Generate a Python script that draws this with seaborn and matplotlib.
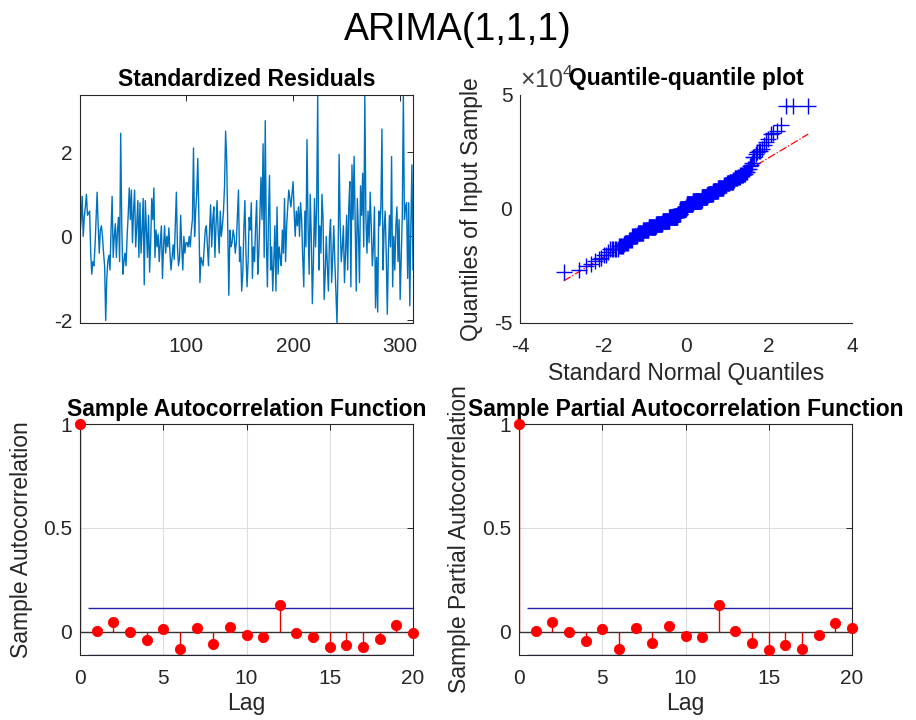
import numpy as np
import pandas as pd
import matplotlib
matplotlib.use("Agg")
import matplotlib.pyplot as plt
import seaborn as sns
from matplotlib.ticker import FuncFormatter
from statistics import NormalDist

# Standardized residuals of the fitted ARIMA(1,1,1) model
std_residuals = [
    0.05, 0.4, 0.95, 0.0, 0.45, 0.7, 1.0, 0.5, 0.55, 0.6,
    -0.4, -0.9, -0.6, -0.7, -0.25, 0.4, 1.05, 0.25, -0.4, 0.15,
    0.25, 0.0, -0.4, -0.7, -2.0, -1.0, -0.6, -0.45, -0.8, 0.15,
    0.95, -0.5, 0.0, 0.3, -0.5, 0.15, 0.45, -0.6, 2.45, 0.25,
    -0.9, -0.6, -0.4, -0.7, 0.0, 0.5, 1.15, 0.4, 1.1, -0.15,
    0.6, 1.1, -0.25, 0.25, 0.85, -0.5, 0.8, -0.4, 0.15, 0.9,
    -1.15, 0.85, 0.15, -0.5, 0.5, -0.85, -0.15, 0.9, 0.4, 1.15,
    -0.5, 0.15, -0.25, 0.05, -0.6, -0.15, 0.25, -1.0, -0.25, 0.25,
    -0.4, 0.0, -0.25, 0.2, -0.4, -0.8, -0.5, -0.2, -0.55, 0.25,
    1.05, -0.25, -0.7, -0.5, 0.5, -0.25, -0.8, 0.0, -0.4, -0.15,
    -0.15, -0.25, 0.0, -0.25, 0.15, 0.4, 2.1, 0.0, 0.6, 1.0,
    1.85, 0.5, -1.1, -0.5, -0.6, -0.7, -0.25, 0.15, 0.25, -0.25,
    -0.7, 0.15, 0.75, -0.25, 0.4, 0.7, -0.5, 0.25, 0.85, 0.15,
    -0.4, 0.6, 0.0, 0.25, 0.6, 1.2, 2.5, 1.8, 0.25, -1.4,
    0.15, -0.25, -0.15, 0.15, 0.0, -0.4, -0.15, 0.5, 1.1, -0.6,
    -0.25, -1.3, -0.9, 0.15, 0.85, -0.4, -1.2, -0.6, 0.45, 0.15,
    0.8, -1.0, -0.25, -0.6, 0.25, 0.85, -0.9, -0.4, 0.5, 1.4,
    0.4, 2.2, -0.5, 2.75, 0.0, -1.2, 0.4, 1.45, -0.8, -0.25,
    -1.3, -0.6, 0.25, -1.3, 0.7, -0.9, -0.25, -0.5, -0.7, 0.15,
    -0.4, 0.9, -0.6, 0.25, 0.7, 1.1, 0.9, 0.7, 1.0, 1.3,
    0.6, 0.0, 0.6, 0.25, 0.7, 0.0, 0.8, 0.4, -0.5, -1.2,
    0.6, -0.25, 2.3, 0.25, -0.9, 1.0, 0.0, -1.6, -0.6, 0.9,
    -0.25, 0.7, 3.36, -0.8, 0.25, -0.4, 1.0, 0.4, -1.5, -0.9,
    0.0, -0.7, -1.3, 0.0, 0.4, -1.1, -0.5, 0.25, -0.6, -1.3,
    -2.06, -0.7, 1.95, 0.25, -0.6, -0.25, 0.25, -1.1, -0.4, 0.5,
    -0.8, 0.7, 1.3, -1.2, 1.7, 0.4, 1.9, 0.25, -1.3, 0.9,
    0.15, -1.1, 1.2, 0.5, 1.5, -0.25, 3.36, 0.5, -0.4, 0.6,
    -0.15, 1.05, 0.25, -0.7, -0.25, 0.7, -1.7, -0.5, -1.8, 0.6,
    0.25, 0.7, 2.55, -0.8, 0.15, 0.6, -0.4, -1.85, -0.4, 0.5,
    -0.25, 1.9, -1.2, 0.0, -0.8, 0.25, 0.7, -0.6, 0.4, -1.5,
    -0.5, 0.5, 3.36, 0.4, 0.7, 0.8, -1.0, 0.8, -1.65, 0.25,
    1.7, -0.8,
]
# Residual standard deviation (raw residuals = standardized * scale)
residual_scale = 1.34e4

lags = list(range(0, 21))
acf_values = [1.0, 0.005, 0.047, 0.0, -0.042, 0.013, -0.085, 0.018, -0.058, 0.023,
              -0.016, -0.027, 0.129, -0.005, -0.024, -0.076, -0.066, -0.073, -0.037,
              0.031, -0.005]
pacf_values = [1.0, 0.005, 0.047, -0.002, -0.045, 0.013, -0.085, 0.018, -0.053, 0.026,
               -0.023, -0.024, 0.129, 0.005, -0.055, -0.087, -0.066, -0.082, -0.016,
               0.040, 0.019]
conf_bound = 0.113

sns.set_theme(style="white")
plt.rcParams["font.family"] = ["Liberation Sans", "DejaVu Sans"]
plt.rcParams.update({
    "axes.unicode_minus": False,
    "mathtext.default": "regular",
    "axes.edgecolor": "#262626",
    "axes.linewidth": 0.8,
    "xtick.color": "#262626",
    "ytick.color": "#262626",
    "xtick.labelcolor": "#262626",
    "ytick.labelcolor": "#262626",
    "xtick.direction": "in",
    "ytick.direction": "in",
    "xtick.major.size": 4,
    "ytick.major.size": 4,
    "xtick.major.width": 0.7,
    "ytick.major.width": 0.7,
    "xtick.major.pad": 10,
    "ytick.major.pad": 5.5,
    "xtick.labelsize": 15,
    "ytick.labelsize": 15,
    "axes.labelsize": 16.5,
    "axes.labelcolor": "#262626",
})

W, H = 916, 720
fig = plt.figure(figsize=(W / 100, H / 100), dpi=100)


def add_axes(left, top, right, bottom):
    return fig.add_axes([left / W, 1 - bottom / H, (right - left) / W, (bottom - top) / H])


ax_res = add_axes(80, 95, 413, 323)
ax_qq = add_axes(520, 95, 852, 323)
ax_acf = add_axes(80, 424, 413, 655)
ax_pacf = add_axes(519, 424, 852, 655)

title_kw = dict(fontsize=16.5, fontweight="bold", color="black", pad=0, va="center")

# Standardized residuals
n = len(std_residuals)
res_df = pd.DataFrame({"t": np.arange(1, n + 1), "r": std_residuals})
sns.lineplot(data=res_df, x="t", y="r", ax=ax_res, color="#0072BD", linewidth=1.0)
ax_res.set_xlim(1, n)
ax_res.set_ylim(min(std_residuals), max(std_residuals))
ax_res.set_xticks([100, 200, 300])
ax_res.set_yticks([-2, 0, 2])
ax_res.set_xlabel("")
ax_res.set_ylabel("")
ax_res.tick_params(top=True, right=True)
ax_res.set_title("Standardized Residuals", y=1.068, **title_kw)

# Quantile-quantile plot of the raw residuals
sample = np.sort(np.array(std_residuals) * residual_scale)
probs = (np.arange(1, n + 1) - 0.5) / n
theo = np.array([NormalDist().inv_cdf(p) for p in probs])
q1, q3 = np.percentile(sample, [25, 75])
t1, t3 = NormalDist().inv_cdf(0.25), NormalDist().inv_cdf(0.75)
slope = (q3 - q1) / (t3 - t1)
intercept = q1 - slope * t1
line_x = np.array([theo[0], theo[-1]])
sns.lineplot(x=line_x, y=intercept + slope * line_x, ax=ax_qq, color="red",
             linestyle="-.", linewidth=0.9)
sns.scatterplot(x=theo, y=sample, ax=ax_qq, marker="+", s=130, color="#0000FF",
                linewidth=1.0, zorder=3)
ax_qq.set_xlim(-4, 4)
ax_qq.set_ylim(-5e4, 5e4)
ax_qq.set_xticks([-4, -2, 0, 2, 4])
ax_qq.set_yticks([-5e4, 0, 5e4])
ax_qq.yaxis.set_major_formatter(FuncFormatter(lambda v, pos: f"{v / 1e4:g}"))
ax_qq.text(0.0, 1.01, r"$\times10^4$", transform=ax_qq.transAxes, ha="left",
           va="bottom", fontsize=18, color="#404040")
ax_qq.spines["top"].set_visible(False)
ax_qq.spines["right"].set_visible(False)
ax_qq.set_xlabel("Standard Normal Quantiles")
ax_qq.set_ylabel("Quantiles of Input Sample")
ax_qq.xaxis.set_label_coords(0.5, -0.171)
ax_qq.yaxis.set_label_coords(-0.111, 0.5)
ax_qq.set_title("Quantile-quantile plot", y=1.072, **title_kw)


def draw_corr(ax, values, title, ylabel, label_x):
    ax.grid(True, color="#dcdcdc", linewidth=0.8)
    ax.set_axisbelow(True)
    ax.axhline(0, color="#333333", linewidth=1.0, zorder=2)
    ax.vlines(lags, 0, values, color="#e60000", linewidth=1.0, zorder=2)
    sns.scatterplot(x=lags, y=values, ax=ax, color="red", edgecolor="red", s=55,
                    zorder=4, clip_on=False)
    ax.hlines([conf_bound, -conf_bound], 0.5, lags[-1], color="#2323a8",
              linewidth=1.0, zorder=3)
    ax.set_xlim(0, lags[-1])
    ax.set_ylim(min(-conf_bound, min(values)), 1)
    ax.set_xticks([0, 5, 10, 15, 20])
    ax.set_yticks([0, 0.5, 1])
    ax.set_yticklabels(["0", "0.5", "1"])
    ax.tick_params(top=True, right=True)
    ax.set_xlabel("Lag")
    ax.set_ylabel(ylabel)
    ax.xaxis.set_label_coords(0.5, -0.16)
    ax.yaxis.set_label_coords(label_x, 0.5)
    ax.set_title(title, y=1.062, **title_kw)


draw_corr(ax_acf, acf_values, "Sample Autocorrelation Function",
          "Sample Autocorrelation", -0.141)
draw_corr(ax_pacf, pacf_values, "Sample Partial Autocorrelation Function",
          "Sample Partial Autocorrelation", -0.145)

fig.text(0.5, 1 - 30 / H, "ARIMA(1,1,1)", ha="center", va="center", fontsize=27,
         color="black")

fig.savefig("out.png", dpi=100, facecolor="white")
